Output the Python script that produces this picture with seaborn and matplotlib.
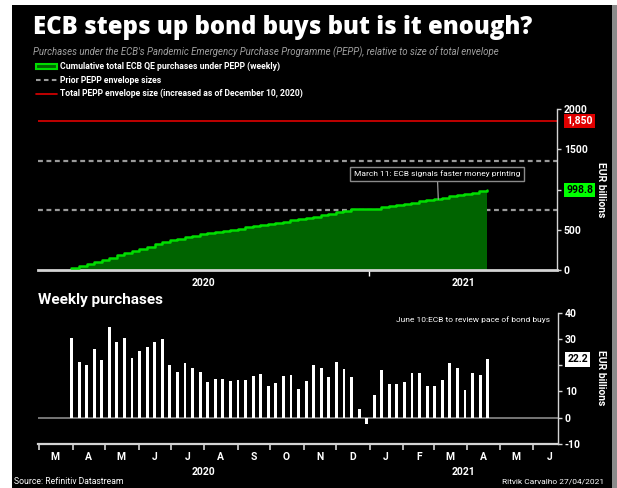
import numpy as np
import pandas as pd
import matplotlib
matplotlib.use("Agg")
import matplotlib.pyplot as plt
import matplotlib.dates as mdates
from matplotlib.lines import Line2D
from matplotlib.patches import Patch, Rectangle
import seaborn as sns

# ---- data -------------------------------------------------------------
first_week = "2020-03-31"          # weekly observations (Tuesdays)
weekly_purchases = [               # EUR billions per week
    30.2, 21.3, 20.0, 26.0, 22.0, 34.5, 28.9, 30.2, 22.9, 25.4,
    27.0, 28.9, 29.9, 20.1, 17.6, 20.8, 18.9, 17.6, 13.8, 14.9,
    14.9, 14.0, 14.3, 14.3, 15.8, 16.6, 11.9, 13.4, 15.8, 16.1,
    10.9, 14.0, 20.0, 19.0, 15.5, 21.3, 18.7, 15.5, 3.5, -2.5,
    8.6, 18.2, 13.0, 12.8, 13.5, 17.2, 17.2, 12.1, 11.9, 14.2,
    21.0, 18.9, 10.7, 17.2, 16.2, 22.2,
]
envelope_total = 1850
envelope_prior = [750, 1350]
top_yticks = [0, 500, 1000, 1500, 2000]
bottom_yticks = [-10, 0, 10, 20, 30, 40]
month_letters = ["M", "A", "M", "J", "J", "A", "S", "O", "N", "D",
                 "J", "F", "M", "A", "M", "J"]
year_labels = ["2020", "2021"]
x_range = ["2020-02-29", "2021-06-24"]
note_date = "2021-03-06"

dates = pd.date_range(first_week, periods=len(weekly_purchases), freq="7D")
xnum = mdates.date2num(dates)
cumulative = np.cumsum(weekly_purchases)
df = pd.DataFrame({"x": xnum, "weekly": weekly_purchases, "cum": cumulative})

x0, x1 = mdates.date2num(pd.to_datetime(x_range))
jan21 = mdates.date2num(pd.Timestamp("2021-01-01"))

# ---- style ------------------------------------------------------------
sns.set_style("dark", {"axes.facecolor": "none", "figure.facecolor": "white"})
plt.rcParams["font.family"] = ["Roboto", "DejaVu Sans"]

W, H = 617, 488
fig = plt.figure(figsize=(W / 100, H / 100), dpi=100, facecolor="white")
fig.patches.append(Rectangle((12 / W, 0), 600 / W, 1 - 5 / H, transform=fig.transFigure,
                             facecolor="black", edgecolor="none", zorder=-10))
fig.patches.append(Rectangle((612 / W, 0), 5 / W, 1 - 5 / H, transform=fig.transFigure,
                             facecolor="#8a8a8a", edgecolor="none", zorder=-10))

def fx(px):
    return px / W

def fy(py):
    return 1 - py / H

GREEN_FILL = "#006400"
GREEN_LINE = "#00dd00"
RED = "#e00000"
GREY = "#9a9a9a"
SPINE = "#d4d4d4"

# ---- titles -----------------------------------------------------------
fig.text(fx(33), fy(27), "ECB steps up bond buys but is it enough?", color="white",
         fontsize=17.2, fontweight="heavy", family=["Open Sans", "DejaVu Sans"], va="center")
fig.text(fx(33), fy(52),
         "Purchases under the ECB's Pandemic Emergency Purchase Programme (PEPP), relative to size of total envelope",
         color="#a0a0a0", fontsize=6.9, style="italic", va="center")

handles = [
    Patch(facecolor=GREEN_FILL, edgecolor=GREEN_LINE, linewidth=1.5),
    Line2D([], [], color=GREY, lw=1.5, ls=(0, (2.2, 1.6))),
    Line2D([], [], color=RED, lw=1.2),
]
labels = [
    "Cumulative total ECB QE purchases under PEPP (weekly)",
    "Prior PEPP envelope sizes",
    "Total PEPP envelope size (increased as of December 10, 2020)",
]
fig.legend(handles, labels, loc="upper left", bbox_to_anchor=(fx(36), fy(62)),
           frameon=False, labelcolor="white", handlelength=2.4, handleheight=0.45,
           handletextpad=0.4, labelspacing=0.5, borderpad=0, borderaxespad=0,
           prop={"size": 6.2, "weight": "bold"})

# ---- top panel: cumulative purchases -----------------------------------
ax1 = fig.add_axes([fx(38), fy(270), 519 / W, 161 / H])
ax1.fill_between(df["x"], df["cum"], step="post", color=GREEN_FILL, lw=0, zorder=2)
sns.lineplot(data=df, x="x", y="cum", drawstyle="steps-post", color=GREEN_LINE,
             lw=1.8, ax=ax1, zorder=3)
ax1.axhline(envelope_total, color=RED, lw=1.2, zorder=1)
for v in envelope_prior:
    ax1.axhline(v, color=GREY, lw=1.6, ls=(0, (2.2, 1.6)), zorder=1)

ax1.set_xlim(x0, x1)
ax1.set_ylim(0, 2000)
ax1.set_xlabel("")
ax1.set_ylabel("")
ax1.grid(False)
for s in ("left", "top"):
    ax1.spines[s].set_visible(False)
ax1.spines["bottom"].set_color(SPINE)
ax1.spines["bottom"].set_linewidth(2)
ax1.spines["right"].set_color(SPINE)
ax1.spines["right"].set_linewidth(1)
ax1.yaxis.tick_right()
ax1.set_yticks(top_yticks)
ax1.set_yticklabels(["" if t == 1000 else str(t) for t in top_yticks])
ax1.tick_params(axis="y", colors=SPINE, labelcolor="white", length=3, width=1,
                labelsize=7.5, pad=2, right=True, left=False)
ax1.set_xticks([jan21])
ax1.set_xticklabels([""])
ax1.tick_params(axis="x", colors="white", length=4, width=1, bottom=True)
for lab in ax1.get_yticklabels():
    lab.set_fontweight("bold")

for lbl, (a, b) in zip(year_labels, [(x0, jan21), (jan21, x1)]):
    ax1.text((a + b) / 2, -0.08, lbl, transform=ax1.get_xaxis_transform(),
             ha="center", va="center", color="white", fontsize=7.5, fontweight="bold")

ytr1 = ax1.get_yaxis_transform()
ax1.text(1.018, envelope_total, f"{envelope_total:,}", transform=ytr1, ha="left", va="center",
         color="white", fontsize=7.5, fontweight="bold",
         bbox=dict(boxstyle="square,pad=0.2", fc=RED, ec="none"))
ax1.text(1.018, cumulative[-1], f"{cumulative[-1]:.1f}", transform=ytr1, ha="left", va="center",
         color="black", fontsize=7.5, fontweight="bold",
         bbox=dict(boxstyle="square,pad=0.2", fc="#00ff00", ec="none"))

note_x = mdates.date2num(pd.Timestamp(note_date))
note_y = df.loc[df["x"] <= note_x, "cum"].iloc[-1]
ax1.annotate("March 11: ECB signals faster money printing", xy=(note_x, note_y),
             xytext=(mdates.date2num(pd.Timestamp("2021-03-05")), 1195),
             ha="center", va="center", color="white", fontsize=6.0,
             bbox=dict(boxstyle="square,pad=0.45", fc="black", ec="#8a8a8a", lw=1),
             arrowprops=dict(arrowstyle="-", color="#9a9a9a", lw=0.9, shrinkA=0, shrinkB=0),
             zorder=5)

fig.text(fx(601), fy(190), "EUR billions", rotation=270, ha="center", va="center",
         color="white", fontsize=7.5, fontweight="bold")

# ---- bottom panel: weekly purchases -----------------------------------
fig.text(fx(38), fy(300), "Weekly purchases", color="white", fontsize=11,
         fontweight="bold", va="center")

ax2 = fig.add_axes([fx(38), fy(444), 520 / W, 131.3 / H])
sns.barplot(data=df, x="x", y="weekly", native_scale=True, color="white",
            saturation=1, width=0.38, errorbar=None, linewidth=0, ax=ax2, zorder=3)
ax2.axhline(0, color="#8a8a8a", lw=1.2, zorder=1)
ax2.set_xlim(x0, x1)
ax2.set_ylim(-10, 40)
ax2.set_xlabel("")
ax2.set_ylabel("")
ax2.grid(False)
for s in ("left", "top"):
    ax2.spines[s].set_visible(False)
ax2.spines["bottom"].set_color(SPINE)
ax2.spines["bottom"].set_linewidth(1.6)
ax2.spines["right"].set_color(SPINE)
ax2.spines["right"].set_linewidth(1)
ax2.yaxis.tick_right()
ax2.set_yticks(bottom_yticks)
ax2.set_yticklabels(["" if t == 20 else str(t) for t in bottom_yticks])
ax2.tick_params(axis="y", colors=SPINE, labelcolor="white", length=3, width=1,
                labelsize=7.5, pad=2, right=True, left=False)
for lab in ax2.get_yticklabels():
    lab.set_fontweight("bold")

month_starts = pd.date_range("2020-03-01", "2021-06-01", freq="MS")
month_mids = month_starts + pd.Timedelta(days=15)
ax2.set_xticks(mdates.date2num(month_starts))
ax2.set_xticklabels([""] * len(month_starts))
ax2.set_xticks(mdates.date2num(month_mids), minor=True)
ax2.set_xticklabels(month_letters, minor=True)
ax2.tick_params(axis="x", which="major", colors=SPINE, length=4, width=1.2, bottom=True)
ax2.tick_params(axis="x", which="minor", length=0, pad=6, labelcolor="white",
                labelsize=7.5, bottom=True)
for lab in ax2.get_xticklabels(minor=True):
    lab.set_fontweight("bold")

for lbl, (a, b) in zip(year_labels, [(x0, jan21), (jan21, x1)]):
    ax2.text((a + b) / 2, -0.213, lbl, transform=ax2.get_xaxis_transform(),
             ha="center", va="center", color="white", fontsize=7.5, fontweight="bold")

ax2.text(1.018, weekly_purchases[-1], f"{weekly_purchases[-1]:.1f}",
         transform=ax2.get_yaxis_transform(), ha="left", va="center",
         color="black", fontsize=7.5, fontweight="bold",
         bbox=dict(boxstyle="square,pad=0.2", fc="white", ec="none"))
ax2.text(0.985, 0.944, "June 10:ECB to review pace of bond buys", transform=ax2.transAxes,
         ha="right", va="center", color="white", fontsize=6.0)

fig.text(fx(601), fy(378), "EUR billions", rotation=270, ha="center", va="center",
         color="white", fontsize=7.5, fontweight="bold")

# ---- footer -----------------------------------------------------------
fig.text(fx(14), fy(482), "Source: Refinitiv Datastream", color="white", fontsize=6.2,
         va="center")
fig.text(fx(604), fy(482), "Ritvik Carvalho 27/04/2021", color="white", fontsize=6.0,
         va="center", ha="right")

fig.savefig("out.png", dpi=100, facecolor=fig.get_facecolor())
